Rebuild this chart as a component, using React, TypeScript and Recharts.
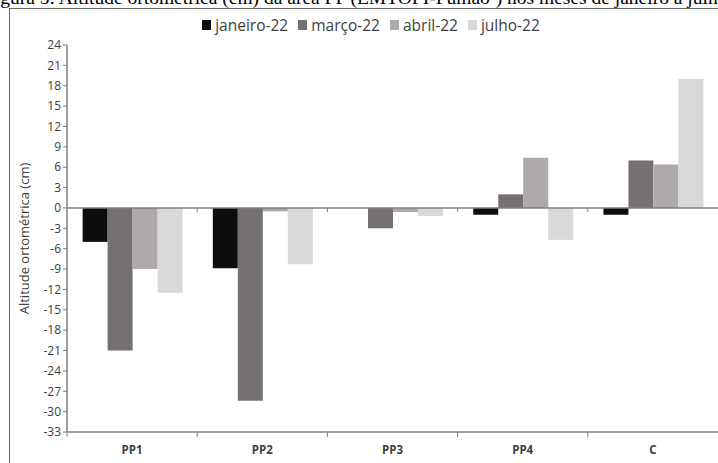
import React from "react";
import { BarChart, Bar, XAxis, YAxis, ReferenceLine } from "recharts";

const categories = ["PP1", "PP2", "PP3", "PP4", "C"];
const janeiro = [-5.0, -8.9, 0, -1.0, -1.0];
const marco = [-21.0, -28.4, -3.0, 2.0, 7.0];
const abril = [-9.0, -0.5, -0.6, 7.4, 6.4];
const julho = [-12.5, -8.3, -1.2, -4.7, 19.0];
const yTicks = [24, 21, 18, 15, 12, 9, 6, 3, 0, -3, -6, -9, -12, -15, -18, -21, -24, -27, -30, -33];

const seriesNames = ["janeiro-22", "março-22", "abril-22", "julho-22"];
const seriesColors = ["#0d0d0d", "#767171", "#aeaaaa", "#d9d9d9"];

const data = categories.map((c, i) => ({
  name: c,
  janeiro: janeiro[i],
  marco: marco[i],
  abril: abril[i],
  julho: julho[i],
}));

const FONT = "'Open Sans', sans-serif";
const AXIS = "#7f7f7f";

const XTick = (props: any) => {
  const { x, y, payload } = props;
  const half = payload && payload.offset ? payload.offset : 65;
  return (
    <g>
      <line x1={x - half} y1={y - 8} x2={x - half} y2={y - 3} stroke={AXIS} strokeWidth={1} />
      <text x={x} y={y + 14} textAnchor="middle" fontFamily={FONT} fontSize={11.5} fontWeight="bold" fill="#404040">
        {payload.value}
      </text>
    </g>
  );
};

const ZeroLine = (props: any) => {
  const { x1, x2, y1 } = props;
  const n = categories.length;
  const step = (x2 - x1) / n;
  const marks = [];
  for (let i = 1; i < n; i++) {
    marks.push(<line key={i} x1={x1 + step * i} x2={x1 + step * i} y1={y1} y2={y1 + 4} stroke={AXIS} strokeWidth={1} />);
  }
  return (
    <g>
      <line x1={x1} x2={x2} y1={y1} y2={y1} stroke={AXIS} strokeWidth={1.5} />
      {marks}
    </g>
  );
};

export default function App() {
  return (
    <div style={{ position: "absolute", left: 0, top: 0, width: 718, height: 463, overflow: "hidden", background: "#fff" }}>
      <div
        style={{
          position: "absolute",
          left: -16,
          top: -13,
          whiteSpace: "nowrap",
          fontFamily: "'Liberation Serif', 'DejaVu Serif', serif",
          fontSize: 19.5,
          color: "#000",
        }}
      >
        Figura 5: Altitude ortométrica (cm) da área PP (EMTOPI-Fumão¹) nos meses de janeiro a julho
      </div>
      <div style={{ position: "absolute", left: 9, top: 8, width: 720, height: 470, borderLeft: "1px solid #666", borderTop: "1px solid #666" }} />
      <div
        style={{
          position: "absolute",
          top: 14,
          left: 0,
          width: 742,
          display: "flex",
          justifyContent: "center",
          gap: 10,
          fontFamily: FONT,
          fontSize: 15.5,
          color: "#404040",
        }}
      >
        {seriesNames.map((n, i) => (
          <span key={n} style={{ display: "flex", alignItems: "center" }}>
            <span style={{ display: "inline-block", width: 9, height: 10, background: seriesColors[i], marginRight: 4 }} />
            {n}
          </span>
        ))}
      </div>
      <div style={{ position: "absolute", left: 0, top: 0 }}>
        <BarChart
          width={718}
          height={463}
          data={data}
          margin={{ top: 45, right: 0, bottom: 0, left: 17 }}
          barCategoryGap="12%"
          barGap={0}
        >
          <XAxis
            dataKey="name"
            axisLine={{ stroke: AXIS, strokeWidth: 1.5 }}
            tickLine={false}
            tick={<XTick />}
            interval={0}
            height={31}
          />
          <YAxis
            domain={[-33, 24]}
            ticks={yTicks}
            interval={0}
            width={50}
            axisLine={{ stroke: AXIS, strokeWidth: 1.5 }}
            tickLine={{ stroke: AXIS }}
            tickSize={4}
            tick={{ fontFamily: FONT, fontSize: 12, fill: "#404040" }}
            label={{
              value: "Altitude ortométrica (cm)",
              angle: -90,
              position: "insideLeft",
              offset: 7,
              style: { textAnchor: "middle", fontFamily: FONT, fontSize: 13, fill: "#404040" },
            }}
          />
          <ReferenceLine y={0} shape={<ZeroLine />} />
          <Bar dataKey="janeiro" name={seriesNames[0]} fill={seriesColors[0]} isAnimationActive={false} />
          <Bar dataKey="marco" name={seriesNames[1]} fill={seriesColors[1]} isAnimationActive={false} />
          <Bar dataKey="abril" name={seriesNames[2]} fill={seriesColors[2]} isAnimationActive={false} />
          <Bar dataKey="julho" name={seriesNames[3]} fill={seriesColors[3]} isAnimationActive={false} />
        </BarChart>
      </div>
    </div>
  );
}
